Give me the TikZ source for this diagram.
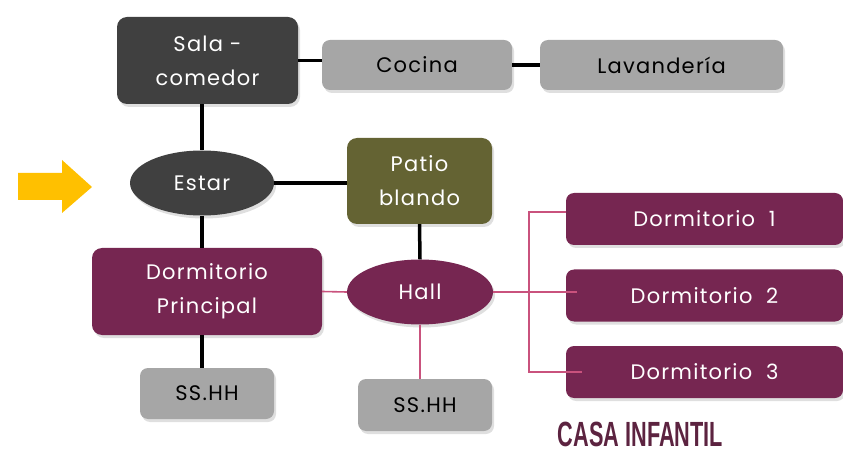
\documentclass[tikz,border=0pt]{standalone}
\definecolor{roomdark}{RGB}{64, 64, 64}
\definecolor{roomgray}{RGB}{166, 166, 166}
\definecolor{roomolive}{RGB}{100, 99, 51}
\definecolor{roomplum}{RGB}{118, 38, 81}
\definecolor{linkpink}{RGB}{201, 82, 125}
\definecolor{titleplum}{RGB}{92, 35, 64}
\definecolor{arrowgold}{RGB}{255, 192, 0}
\usepackage{xcolor}
\usepackage{tikz}
\usepackage{fontspec}
\setmainfont{Poppins}
\newfontfamily\roomfont{Poppins}[LetterSpace=6]
\newfontfamily\titlefont{Liberation Sans}[FakeStretch=0.62]
\usetikzlibrary{shadows, shapes.geometric}

\begin{document}
\begin{tikzpicture}[x=1pt, y=-1pt,
  every node/.style={align=center, inner sep=0pt, font=\roomfont\fontsize{21}{34}\selectfont},
  room/.style={rounded corners=10pt, text=white, drop shadow={shadow xshift=2pt, shadow yshift=-3pt, opacity=0.25}},
  service/.style={rounded corners=8pt, fill=roomgray, text=black, drop shadow={shadow xshift=2pt, shadow yshift=-3pt, opacity=0.25}},
  hub/.style={ellipse, text=white, drop shadow={shadow xshift=2pt, shadow yshift=-3pt, opacity=0.25}},
  link/.style={line width=3.5pt, black},
  thin link/.style={line width=1.6pt, linkpink}]
  \useasboundingbox (0,0) rectangle (843,454);

  % Nodes
  \node[room, fill=roomdark, minimum width=181pt, minimum height=87pt] (sala) at (207.5,60.5) {Sala -\\comedor};
  \node[service, minimum width=190pt, minimum height=50pt] (cocina) at (417,65) {Cocina};
  \node[service, minimum width=243pt, minimum height=50pt] (lavanderia) at (661.5,65) {Lavander\'ia};
  \node[hub, fill=roomdark, minimum width=144pt, minimum height=65pt] (estar) at (202,183) {Estar};
  \node[room, fill=roomolive, minimum width=145pt, minimum height=86pt] (patio) at (419.5,181) {Patio\\blando};
  \node[room, fill=roomplum, minimum width=230pt, minimum height=87pt] (dormp) at (207,291.5) {Dormitorio\\Principal};
  \node[hub, fill=roomplum, minimum width=146pt, minimum height=65pt] (hall) at (420,292) {Hall};
  \node[service, minimum width=134pt, minimum height=51pt] (banoa) at (207,393.5) {SS.HH};
  \node[service, minimum width=134pt, minimum height=52pt] (banob) at (425,405) {SS.HH};
  \node[room, rounded corners=8pt, fill=roomplum, minimum width=277pt, minimum height=52pt] (dorma) at (704.5,219) {Dormitorio~~1};
  \node[room, rounded corners=8pt, fill=roomplum, minimum width=277pt, minimum height=52pt] (dormb) at (704.5,295.5) {Dormitorio~~2};
  \node[room, rounded corners=8pt, fill=roomplum, minimum width=277pt, minimum height=52pt] (dormc) at (704.5,372) {Dormitorio~~3};
  \node[text=titleplum, font=\titlefont\bfseries\fontsize{35}{35}\selectfont] (title) at (640.5,434) {CASA INFANTIL};
  \coordinate (bracket) at (529,212);

  % Entrance
  \fill[arrowgold] (18,173) -- (62,173) -- (62,160) -- (92,187) -- (62,213) -- (62,200) -- (18,200) -- cycle;

  % Arrows
  \draw[link] (sala.east) -- (sala.east -| cocina.west);
  \draw[link] (cocina.east) -- (lavanderia.west);
  \draw[link] (estar.north) -- (estar.north |- sala.south);
  \draw[link] (estar.east) -- (estar.east -| patio.west);
  \draw[link] (estar.south) -- (estar.south |- dormp.north);
  \draw[link] (estar |- dormp.south) -- (estar |- banoa.north);
  \draw[link] (patio.south) -- (hall.north);
  \draw[thin link] (dormp.east) -- (hall.west);
  \draw[thin link] (hall.south) -- (hall.south |- banob.north);
  \draw[thin link] (hall.east) -- ([xshift=11pt]hall.east -| dormb.west);
  \draw[thin link] (dorma.west |- bracket) -- (bracket) -- (bracket |- dormc.west) -- ([xshift=16pt]dormc.west);
\end{tikzpicture}
\end{document}
